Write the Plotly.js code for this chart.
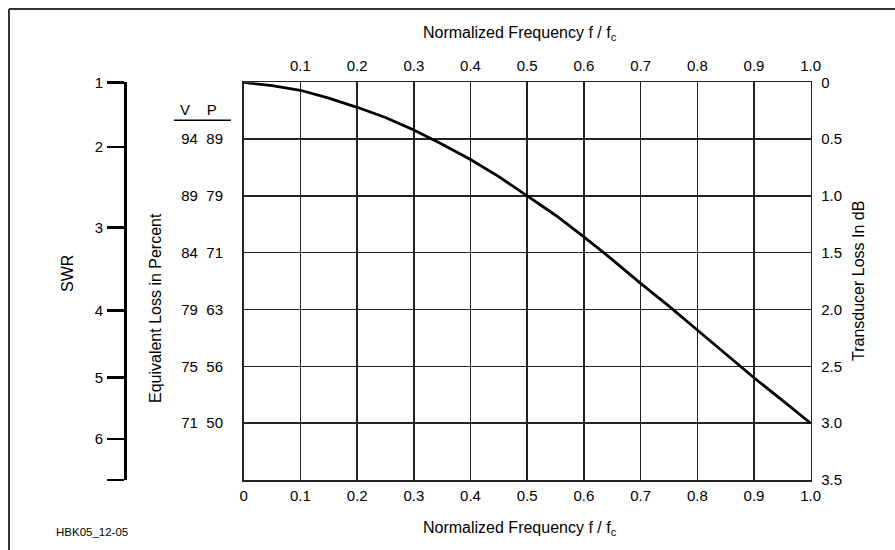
<!DOCTYPE html>
<html>
<head>
<meta charset="utf-8">
<script src="https://cdn.plot.ly/plotly-3.0.1.min.js"></script>
<style>html,body{margin:0;padding:0;background:#fff;}#chart{width:895px;height:550px;}</style>
</head>
<body>
<div id="chart"></div>
<script>
// Normalized frequency f/fc and transducer loss (dB)
var freq = [0, 0.05, 0.1, 0.15, 0.2, 0.25, 0.3, 0.35, 0.4, 0.45, 0.5, 0.55, 0.6, 0.65, 0.7, 0.75, 0.8, 0.85, 0.9, 0.95, 1.0];
var lossDb = [0, 0.03, 0.07, 0.14, 0.22, 0.31, 0.42, 0.545, 0.68, 0.83, 1.0, 1.17, 1.36, 1.56, 1.77, 1.97, 2.18, 2.39, 2.60, 2.80, 3.0];

// Axis ticks
var xBottomTicks = [0, 0.1, 0.2, 0.3, 0.4, 0.5, 0.6, 0.7, 0.8, 0.9, 1.0];
var xBottomLabels = ["0", "0.1", "0.2", "0.3", "0.4", "0.5", "0.6", "0.7", "0.8", "0.9", "1.0"];
var xTopTicks = [0.1, 0.2, 0.3, 0.4, 0.5, 0.6, 0.7, 0.8, 0.9, 1.0];
var xTopLabels = ["0.1", "0.2", "0.3", "0.4", "0.5", "0.6", "0.7", "0.8", "0.9", "1.0"];
var dbTicks = [0, 0.5, 1.0, 1.5, 2.0, 2.5, 3.0, 3.5];
var dbLabels = ["0", "0.5", "1.0", "1.5", "2.0", "2.5", "3.0", "3.5"];

// SWR scale (positions in dB); last tick is the end bracket
var swrDb = [0, 0.57, 1.28, 2.01, 2.60, 3.14, 3.5];
var swrLabels = ["1", "2", "3", "4", "5", "6", " "];

// Equivalent loss in percent (V, P)
var vpDb = [0.5, 1.0, 1.5, 2.0, 2.5, 3.0];
var vpV = ["94", "89", "84", "79", "75", "71"];
var vpP = ["89", "79", "71", "63", "56", "50"];
var vpLabels = vpV.map(function (v, i) { return v + "  " + vpP[i]; });

var W = 895, H = 550;
var plotL = 243.7, plotR = 810.7, plotT = 82.3, plotB = 480;
var FONT = "Liberation Sans, Arial, Helvetica, sans-serif";
var tickFont = {family: FONT, size: 15, color: "#000"};
var titleFont = {family: FONT, size: 16, color: "#000"};
var gridC = "#222";

var traces = [
  {x: freq, y: lossDb, xaxis: "x", yaxis: "y", mode: "lines",
   line: {color: "#000", width: 2.8}, hoverinfo: "x+y", showlegend: false},
  {x: freq, y: lossDb, xaxis: "x2", yaxis: "y", mode: "lines",
   line: {color: "rgba(0,0,0,0)", width: 0}, hoverinfo: "skip", showlegend: false},
  {x: freq, y: lossDb, xaxis: "x", yaxis: "y2", mode: "lines",
   line: {color: "rgba(0,0,0,0)", width: 0}, hoverinfo: "skip", showlegend: false},
  {x: freq, y: lossDb, xaxis: "x", yaxis: "y3", mode: "lines",
   line: {color: "rgba(0,0,0,0)", width: 0}, hoverinfo: "skip", showlegend: false}
];

var layout = {
  width: W, height: H,
  margin: {l: 0, r: 0, t: 0, b: 0, pad: 0},
  paper_bgcolor: "#fff", plot_bgcolor: "#fff",
  showlegend: false,
  xaxis: {
    domain: [plotL / W, plotR / W], range: [0, 1], anchor: "y",
    tickmode: "array", tickvals: xBottomTicks, ticktext: xBottomLabels,
    tickfont: tickFont, ticks: "", ticklabelstandoff: 1,
    showgrid: true, gridcolor: gridC, gridwidth: 1.5,
    showline: true, linecolor: gridC, linewidth: 1.5, mirror: true,
    zeroline: false, fixedrange: true
  },
  xaxis2: {
    overlaying: "x", side: "top", anchor: "y", range: [0, 1],
    tickmode: "array", tickvals: xTopTicks, ticktext: xTopLabels,
    tickfont: tickFont, ticks: "", ticklabelstandoff: 7,
    showgrid: false, showline: false, zeroline: false, fixedrange: true
  },
  yaxis: {
    domain: [1 - plotB / H, 1 - plotT / H], range: [3.5, 0], anchor: "x", side: "right",
    tickmode: "array", tickvals: dbTicks, ticktext: dbLabels,
    tickfont: tickFont, ticks: "", ticklabelstandoff: 6,
    showgrid: true, gridcolor: gridC, gridwidth: 1.5,
    showline: true, linecolor: gridC, linewidth: 1.5, mirror: true,
    zeroline: false, fixedrange: true
  },
  yaxis2: {
    overlaying: "y", anchor: "free", position: 125 / W, side: "left",
    range: [3.5, 0], tickmode: "array", tickvals: swrDb, ticktext: swrLabels,
    tickfont: tickFont, ticks: "outside", ticklen: 17, tickwidth: 2.5, tickcolor: "#000",
    ticklabelstandoff: 1,
    showline: true, linecolor: "#000", linewidth: 3,
    showgrid: false, zeroline: false, fixedrange: true
  },
  yaxis3: {
    overlaying: "y", anchor: "free", position: 223 / W, side: "left",
    range: [3.5, 0], tickmode: "array", tickvals: vpDb, ticktext: vpLabels,
    tickfont: tickFont, ticks: "", ticklabelstandoff: 0,
    showline: false, showgrid: false, zeroline: false, fixedrange: true
  },
  shapes: [
    {type: "line", xref: "paper", yref: "paper", x0: 9 / W, x1: 1, y0: 1 - 9 / H, y1: 1 - 9 / H,
     line: {color: "#333", width: 2}},
    {type: "line", xref: "paper", yref: "paper", x0: 9 / W, x1: 9 / W, y0: 0, y1: 1 - 9 / H,
     line: {color: "#333", width: 2}},
    {type: "line", xref: "paper", yref: "paper", x0: 174 / W, x1: 231 / W, y0: 1 - 120.3 / H, y1: 1 - 120.3 / H,
     line: {color: "#000", width: 1.5}}
  ],
  annotations: [
    {text: "Normalized Frequency f / f<sub>c</sub>", xref: "paper", yref: "paper",
     x: 520 / W, y: 1 - 33 / H, showarrow: false, font: titleFont, xanchor: "center", yanchor: "middle"},
    {text: "Normalized Frequency f / f<sub>c</sub>", xref: "paper", yref: "paper",
     x: 520 / W, y: 1 - 528 / H, showarrow: false, font: titleFont, xanchor: "center", yanchor: "middle"},
    {text: "SWR", xref: "paper", yref: "paper", x: 67 / W, y: 1 - 274 / H, textangle: -90,
     showarrow: false, font: titleFont, xanchor: "center", yanchor: "middle"},
    {text: "Equivalent Loss in Percent", xref: "paper", yref: "paper", x: 155 / W, y: 1 - 308 / H, textangle: -90,
     showarrow: false, font: titleFont, xanchor: "center", yanchor: "middle"},
    {text: "Transducer Loss In dB", xref: "paper", yref: "paper", x: 858 / W, y: 1 - 281 / H, textangle: -90,
     showarrow: false, font: titleFont, xanchor: "center", yanchor: "middle"},
    {text: "V    P", xref: "paper", yref: "paper", x: 198 / W, y: 1 - 109 / H,
     showarrow: false, font: tickFont, xanchor: "center", yanchor: "middle"},
    {text: "HBK05_12-05", xref: "paper", yref: "paper", x: 92 / W, y: 1 - 532 / H,
     showarrow: false, font: {family: FONT, size: 11.5, color: "#000"}, xanchor: "center", yanchor: "middle"}
  ]
};

Plotly.newPlot("chart", traces, layout, {displayModeBar: false, staticPlot: true});
</script>
</body>
</html>
